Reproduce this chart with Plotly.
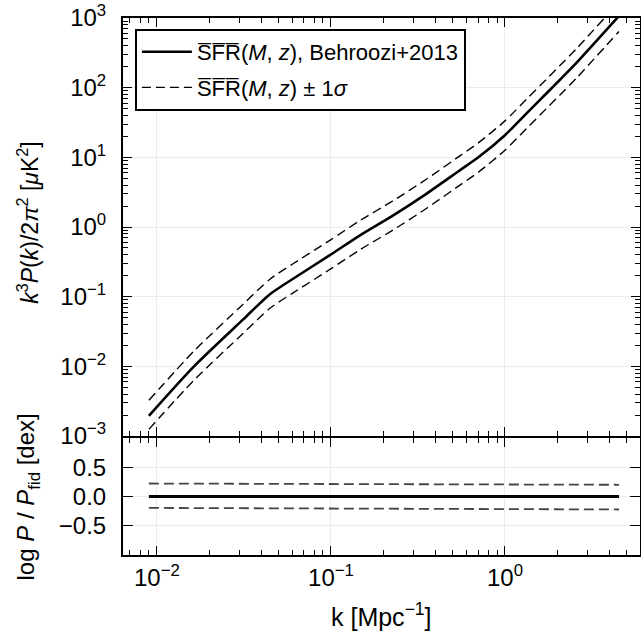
import plotly.graph_objects as go

# ---- data ----
k_vals = [0.00899, 0.01633, 0.0312, 0.0446, 0.0600, 0.0986, 0.1469,
          0.228, 0.355, 0.551, 0.703, 1.0, 1.330, 1.734, 2.070, 2.582, 4.52]
p_fid = [0.00195, 0.0100, 0.0468, 0.1084, 0.178, 0.394, 0.760,
         1.47, 3.02, 6.53, 10.0, 20.8, 42.7, 83.2, 130.0, 229.0, 1070.0]
dex_up = [0.222, 0.220, 0.218, 0.216, 0.215, 0.213, 0.212, 0.211,
          0.209, 0.207, 0.207, 0.205, 0.204, 0.203, 0.203, 0.202, 0.200]
dex_lo = [-0.195, -0.198, -0.200, -0.202, -0.203, -0.205, -0.207, -0.209,
          -0.211, -0.213, -0.214, -0.216, -0.217, -0.218, -0.219, -0.220, -0.222]
dex_fid = [0.0] * len(k_vals)

p_up = [p * 10 ** d for p, d in zip(p_fid, dex_up)]
p_lo = [p * 10 ** d for p, d in zip(p_fid, dex_lo)]

x_tickvals = [0.01, 0.1, 1.0]
x_ticktext = ["10<sup>\u22122</sup>", "10<sup>\u22121</sup>", "10<sup>0</sup>"]
y_tickvals = [1e-3, 1e-2, 1e-1, 1e0, 1e1, 1e2, 1e3]
y_ticktext = ["10<sup>\u22123</sup>", "10<sup>\u22122</sup>", "10<sup>\u22121</sup>",
              "10<sup>0</sup>", "10<sup>1</sup>", "10<sup>2</sup>", "10<sup>3</sup>"]
r_tickvals = [0.5, 0.0, -0.5]
r_ticktext = ["0.5", "0.0", "\u22120.5"]

SFR = "S\u0305F\u0305R\u0305"
lab_fid = SFR + "(<i>M</i>, <i>z</i>), Behroozi+2013"
lab_sig = SFR + "(<i>M</i>, <i>z</i>) \u00b1 1<i>\u03c3</i>"
ytitle_top = ("<i>k</i><sup>3</sup><i>P</i>(<i>k</i>)/2<i>\u03c0</i><sup>2</sup>"
              " [<i>\u03bc</i>K<sup>2</sup>]")
ytitle_bot = "log <i>P</i> / <i>P</i><sub>fid</sub> [dex]"
xtitle = "k [Mpc<sup>\u22121</sup>]"

FONT = "Liberation Sans, Arial, Helvetica, sans-serif"

fig = go.Figure()

top_line = dict(shape="spline", smoothing=0.7)
# top panel
fig.add_trace(go.Scatter(x=k_vals, y=p_fid, mode="lines", name=lab_fid, legendgroup="a",
                         line=dict(color="black", width=2.6, **top_line),
                         xaxis="x2", yaxis="y2"))
fig.add_trace(go.Scatter(x=k_vals, y=p_up, mode="lines", name=lab_sig, legendgroup="b",
                         line=dict(color="black", width=1.4, dash="9px,5px", **top_line),
                         xaxis="x2", yaxis="y2"))
fig.add_trace(go.Scatter(x=k_vals, y=p_lo, mode="lines", name=lab_sig, legendgroup="b",
                         showlegend=False,
                         line=dict(color="black", width=1.4, dash="9px,5px", **top_line),
                         xaxis="x2", yaxis="y2"))
# bottom panel
fig.add_trace(go.Scatter(x=k_vals, y=dex_up, mode="lines", showlegend=False,
                         line=dict(color="#444444", width=1.8, dash="10px,5px"),
                         xaxis="x", yaxis="y"))
fig.add_trace(go.Scatter(x=k_vals, y=dex_lo, mode="lines", showlegend=False,
                         line=dict(color="#444444", width=1.8, dash="10px,5px"),
                         xaxis="x", yaxis="y"))
fig.add_trace(go.Scatter(x=k_vals, y=dex_fid, mode="lines", showlegend=False,
                         line=dict(color="black", width=2.8),
                         xaxis="x", yaxis="y"))

split_top = 0.2216   # bottom of upper panel
split_bot = 0.2179   # top of lower panel (lines overlap at the divider)
xminor = [m * 10 ** e for e in (-3, -2, -1, 0) for m in range(2, 10)]
yminor = [m * 10 ** e for e in range(-3, 3) for m in range(2, 10)]

common_x = dict(type="log", range=[-2.195, 0.776], showline=True, linecolor="black",
                linewidth=2, mirror="ticks", ticks="inside", ticklen=9, tickwidth=1.2,
                tickcolor="black", showgrid=True, gridcolor="#ebebeb", gridwidth=1,
                tickmode="array", tickvals=x_tickvals, ticktext=x_ticktext,
                zeroline=False, automargin=False,
                minor=dict(tickmode="array", tickvals=xminor, ticks="inside",
                           ticklen=5, tickcolor="black", tickwidth=1, showgrid=False))

fig.update_layout(
    width=641, height=640,
    margin=dict(l=123, r=1, t=18, b=85),
    paper_bgcolor="white", plot_bgcolor="white",
    font=dict(family=FONT, size=22, color="black"),
    showlegend=True,
    legend=dict(x=0.023, y=0.9795, xanchor="left", yanchor="top",
                bgcolor="white", bordercolor="black", borderwidth=2,
                font=dict(size=22, family=FONT), itemwidth=50,
                tracegroupgap=4),
    xaxis=dict(**common_x, domain=[0, 1], anchor="y",
               tickfont=dict(size=24), ticklabelstandoff=0),
    xaxis2=dict(**common_x, domain=[0, 1], anchor="y2", matches="x",
                showticklabels=False),
    yaxis=dict(domain=[0, split_bot], range=[-1, 1], showline=True, linecolor="black",
               linewidth=2, mirror="ticks", ticks="inside", ticklen=10, tickwidth=1.2,
               tickcolor="black", showgrid=True, gridcolor="#ebebeb", zeroline=False,
               tickmode="array", tickvals=r_tickvals, ticktext=r_ticktext,
               tickfont=dict(size=24), ticklabelstandoff=10, automargin=False),
    yaxis2=dict(domain=[split_top, 1], type="log", range=[-3, 3], showline=True,
                linecolor="black", linewidth=2, mirror="ticks", ticks="inside",
                ticklen=9, tickwidth=1.2, tickcolor="black", showgrid=True,
                gridcolor="#ebebeb", zeroline=False, automargin=False,
                tickmode="array", tickvals=y_tickvals, ticktext=y_ticktext,
                tickfont=dict(size=24), ticklabelstandoff=10,
                minor=dict(tickmode="array", tickvals=yminor, ticks="inside",
                           ticklen=5, tickcolor="black", tickwidth=1, showgrid=False)),
    annotations=[
        dict(text=ytitle_top, xref="paper", yref="paper", x=-0.1838,
             y=(split_top + 1) / 2 + 0.008,
             xanchor="center", yanchor="middle", textangle=-90, showarrow=False,
             font=dict(size=23, family=FONT)),
        dict(text=ytitle_bot, xref="paper", yref="paper", x=-0.1838, y=split_bot / 2,
             xanchor="center", yanchor="middle", textangle=-90, showarrow=False,
             font=dict(size=24, family=FONT)),
        dict(text=xtitle, xref="paper", yref="paper", x=0.5, y=-0.1117,
             xanchor="center", yanchor="middle", showarrow=False,
             font=dict(size=25, family=FONT)),
    ],
)

fig.write_html("out.html", config={"displayModeBar": False},
               post_script="document.body.style.margin='0';document.body.style.overflow='hidden';")
